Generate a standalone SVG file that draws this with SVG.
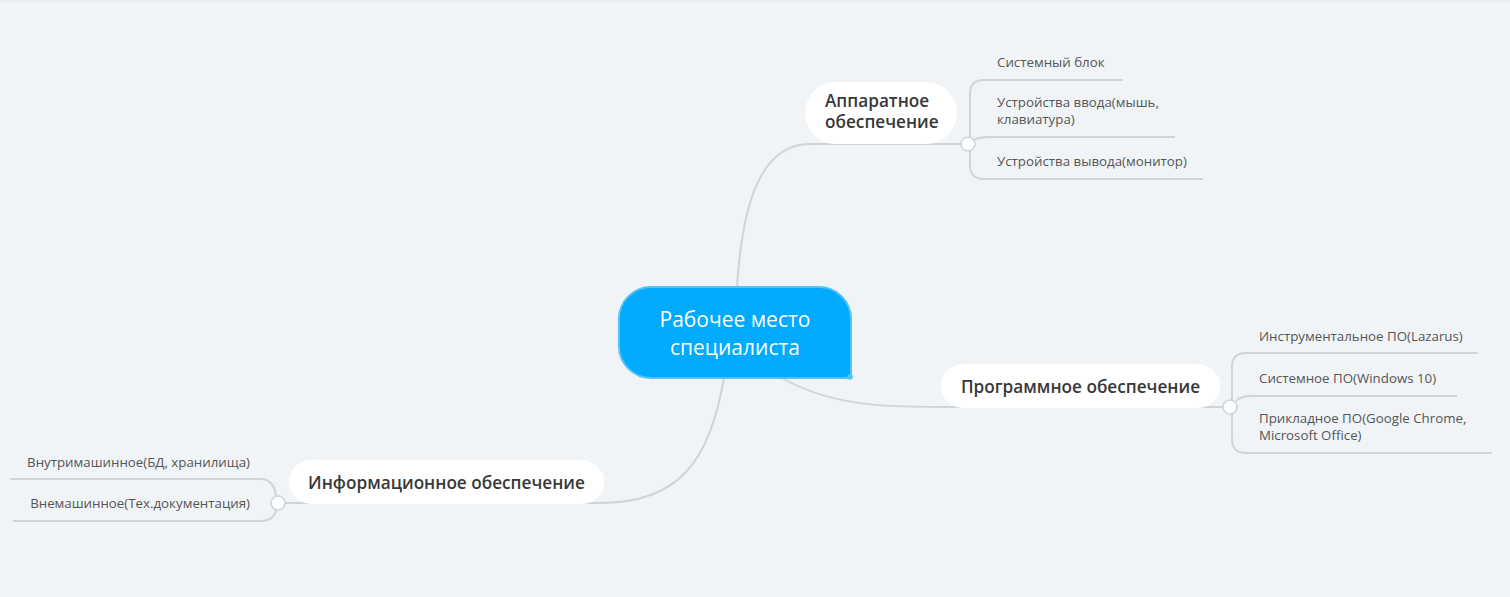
<svg xmlns="http://www.w3.org/2000/svg" width="1510" height="597" viewBox="0 0 1510 597">
<style>
.bg{fill:#f0f4f7}
.ln{fill:none;stroke:#cfd4d8;stroke-width:2}
.dot{fill:#ffffff;stroke:#cfd4d8;stroke-width:1.6}
.pill{fill:#ffffff}
.main{font-family:"Open Sans","DejaVu Sans",sans-serif;font-size:21px;fill:#ffffff;text-anchor:middle}
.lvl1{font-family:"Open Sans","DejaVu Sans",sans-serif;font-size:17.2px;font-weight:600;fill:#383838}
.lvl2{font-family:"Open Sans","DejaVu Sans",sans-serif;font-size:13.3px;fill:#555555}
</style>
<rect class="bg" x="0" y="0" width="1510" height="597"/>
<rect x="0" y="0" width="1510" height="2" fill="#e8edf1"/>
<g id="connectors">
<path class="ln" d="M737,287 C742,210 758,144 810,144 H961"/>
<path class="ln" d="M970,137 V94 Q970,80 984,80 H1123"/>
<path class="ln" d="M974,140 Q978,137 990,137 H1175"/>
<path class="ln" d="M970,151 V165 Q970,179 984,179 H1203"/>
<path class="ln" d="M782,378 C830,405 880,407 940,407 H1223"/>
<path class="ln" d="M1232,400 V367 Q1232,353 1246,353 H1478"/>
<path class="ln" d="M1236,401 Q1240,396 1252,396 H1457"/>
<path class="ln" d="M1232,414 V439 Q1232,453 1246,453 H1492"/>
<path class="ln" d="M724,378 C710,460 680,503 600,503 H285"/>
<path class="ln" d="M276,496 Q274,479 260,479 H10"/>
<path class="ln" d="M276,510 Q274,521 260,521 H13"/>
</g>
<g id="central">
<path d="M651,287 H819 A32,32 0 0 1 851,319 V378 H651 A32,32 0 0 1 619,346 V319 A32,32 0 0 1 651,287 Z" fill="#00aaff" stroke="#55c3f5" stroke-width="2"/>
<circle cx="850" cy="377" r="2.8" fill="#55c3f5"/>
<text class="main" x="735" y="327">Рабочее место</text>
<text class="main" x="735" y="355">специалиста</text>
</g>
<g id="hardware">
<rect class="pill" x="805" y="82" width="152" height="62" rx="31"/>
<text class="lvl1" x="825" y="107">Аппаратное</text>
<text class="lvl1" x="825" y="128">обеспечение</text>
<circle class="dot" cx="968" cy="144" r="7"/>
</g>
<g id="hw-1"><text class="lvl2" x="997" y="67">Системный блок</text></g>
<g id="hw-2"><text class="lvl2" x="997" y="107">Устройства ввода(мышь,</text><text class="lvl2" x="997" y="124">клавиатура)</text></g>
<g id="hw-3"><text class="lvl2" x="997" y="166">Устройства вывода(монитор)</text></g>
<g id="software">
<rect class="pill" x="941" y="364" width="279" height="44" rx="22"/>
<text class="lvl1" x="1080.5" y="393" text-anchor="middle">Программное обеспечение</text>
<circle class="dot" cx="1230" cy="407" r="7"/>
</g>
<g id="sw-1"><text class="lvl2" x="1259" y="341">Инструментальное ПО(Lazarus)</text></g>
<g id="sw-2"><text class="lvl2" x="1259" y="383">Системное ПО(Windows 10)</text></g>
<g id="sw-3"><text class="lvl2" x="1259" y="423">Прикладное ПО(Google Chrome,</text><text class="lvl2" x="1259" y="440">Microsoft Office)</text></g>
<g id="info">
<rect class="pill" x="289" y="460" width="315" height="44" rx="22"/>
<text class="lvl1" x="446.5" y="489" text-anchor="middle">Информационное обеспечение</text>
<circle class="dot" cx="278" cy="503" r="7"/>
</g>
<g id="info-1"><text class="lvl2" x="250" y="467" text-anchor="end">Внутримашинное(БД, хранилища)</text></g>
<g id="info-2"><text class="lvl2" x="250" y="508" text-anchor="end">Внемашинное(Тех.документация)</text></g>
</svg>
